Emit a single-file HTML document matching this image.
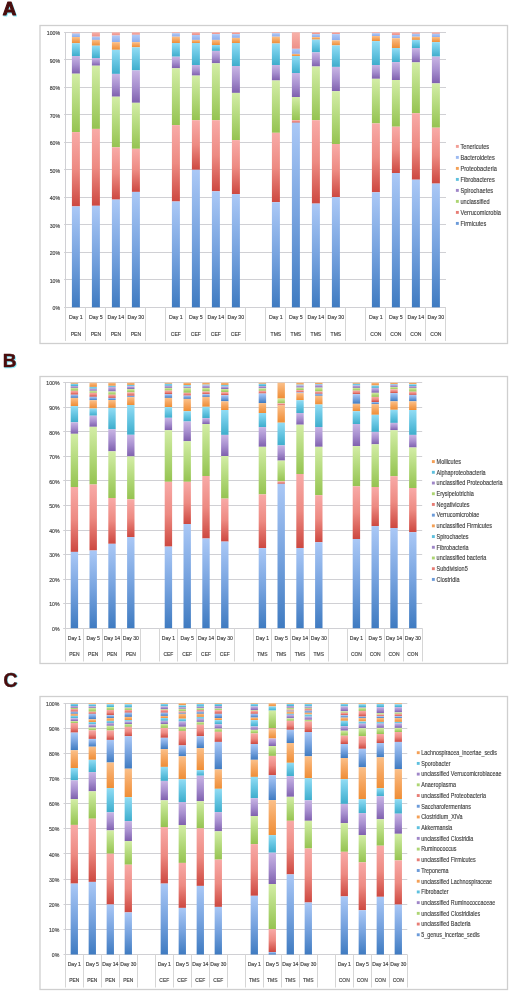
<!DOCTYPE html>
<html><head><meta charset="utf-8"><title>Figure</title>
<style>
html,body{margin:0;padding:0;background:#fff;}
body{width:510px;height:992px;overflow:hidden;}
svg{display:block;}
svg{will-change:transform;}
text{font-family:"Liberation Sans",sans-serif;}
.yl{font-size:5.65px;fill:#3c3c3c;text-anchor:end;stroke:#444;stroke-width:0.15px;}
.xl{fill:#3c3c3c;text-anchor:middle;stroke:#444;stroke-width:0.15px;}
.lg{fill:#3c3c3c;stroke:#444;stroke-width:0.14px;}
.pl{font-size:18.6px;font-weight:bold;fill:#4a0d0d;stroke:#4a0d0d;stroke-width:1.1px;stroke-linejoin:round;}
.pls{fill:#8ef;stroke:#8ef;}
</style></head>
<body>
<svg width="510" height="992" viewBox="0 0 510 992">
<defs>
<linearGradient id="gb" x1="0" y1="0" x2="0" y2="1"><stop offset="0" stop-color="#aac8f6"/><stop offset="0.5" stop-color="#77a3df"/><stop offset="1" stop-color="#3f7bc1"/></linearGradient>
<linearGradient id="gr" x1="0" y1="0" x2="0" y2="1"><stop offset="0" stop-color="#f8aaa7"/><stop offset="0.5" stop-color="#ed8a82"/><stop offset="1" stop-color="#cd4840"/></linearGradient>
<linearGradient id="gg" x1="0" y1="0" x2="0" y2="1"><stop offset="0" stop-color="#d3eda6"/><stop offset="0.5" stop-color="#b3d97b"/><stop offset="1" stop-color="#95c351"/></linearGradient>
<linearGradient id="gp" x1="0" y1="0" x2="0" y2="1"><stop offset="0" stop-color="#c9b5e4"/><stop offset="0.5" stop-color="#a78fcf"/><stop offset="1" stop-color="#7f60ae"/></linearGradient>
<linearGradient id="gc" x1="0" y1="0" x2="0" y2="1"><stop offset="0" stop-color="#92dcf4"/><stop offset="0.5" stop-color="#66c5e2"/><stop offset="1" stop-color="#3eadcc"/></linearGradient>
<linearGradient id="go" x1="0" y1="0" x2="0" y2="1"><stop offset="0" stop-color="#fbc089"/><stop offset="0.5" stop-color="#f5a55e"/><stop offset="1" stop-color="#ef8d35"/></linearGradient>
<linearGradient id="glb" x1="0" y1="0" x2="0" y2="1"><stop offset="0" stop-color="#b0cbf8"/><stop offset="0.5" stop-color="#9fbcf2"/><stop offset="1" stop-color="#8eaeee"/></linearGradient>
<linearGradient id="gpk" x1="0" y1="0" x2="0" y2="1"><stop offset="0" stop-color="#f8b2aa"/><stop offset="0.5" stop-color="#f3a199"/><stop offset="1" stop-color="#ee9088"/></linearGradient>
</defs>
<rect x="40" y="25.5" width="467.5" height="318" fill="#fff" stroke="#cfcfcf" stroke-width="1.3"/>
<line x1="64.1" y1="307.5" x2="446" y2="307.5" stroke="#d0d0d4" stroke-width="1"/>
<text transform="translate(60.1 310) scale(0.92 1)" class="yl">0%</text>
<line x1="64.1" y1="279.5" x2="446" y2="279.5" stroke="#d0d0d4" stroke-width="1"/>
<text transform="translate(60.1 282.5) scale(0.92 1)" class="yl">10%</text>
<line x1="64.1" y1="252.5" x2="446" y2="252.5" stroke="#d0d0d4" stroke-width="1"/>
<text transform="translate(60.1 255) scale(0.92 1)" class="yl">20%</text>
<line x1="64.1" y1="224.5" x2="446" y2="224.5" stroke="#d0d0d4" stroke-width="1"/>
<text transform="translate(60.1 227.5) scale(0.92 1)" class="yl">30%</text>
<line x1="64.1" y1="197.5" x2="446" y2="197.5" stroke="#d0d0d4" stroke-width="1"/>
<text transform="translate(60.1 200) scale(0.92 1)" class="yl">40%</text>
<line x1="64.1" y1="169.5" x2="446" y2="169.5" stroke="#d0d0d4" stroke-width="1"/>
<text transform="translate(60.1 172.5) scale(0.92 1)" class="yl">50%</text>
<line x1="64.1" y1="142.5" x2="446" y2="142.5" stroke="#d0d0d4" stroke-width="1"/>
<text transform="translate(60.1 145) scale(0.92 1)" class="yl">60%</text>
<line x1="64.1" y1="114.5" x2="446" y2="114.5" stroke="#d0d0d4" stroke-width="1"/>
<text transform="translate(60.1 117.5) scale(0.92 1)" class="yl">70%</text>
<line x1="64.1" y1="87.5" x2="446" y2="87.5" stroke="#d0d0d4" stroke-width="1"/>
<text transform="translate(60.1 90) scale(0.92 1)" class="yl">80%</text>
<line x1="64.1" y1="59.5" x2="446" y2="59.5" stroke="#d0d0d4" stroke-width="1"/>
<text transform="translate(60.1 62.5) scale(0.92 1)" class="yl">90%</text>
<line x1="64.1" y1="32.5" x2="446" y2="32.5" stroke="#d0d0d4" stroke-width="1"/>
<text transform="translate(60.1 35) scale(0.92 1)" class="yl">100%</text>
<line x1="65.5" y1="32.5" x2="65.5" y2="307.5" stroke="#d0d0d4" stroke-width="1"/>
<line x1="65.5" y1="307.3" x2="65.5" y2="341" stroke="#d6d6d6" stroke-width="1"/>
<line x1="85.5" y1="307.3" x2="85.5" y2="341" stroke="#d6d6d6" stroke-width="1"/>
<line x1="105.5" y1="307.3" x2="105.5" y2="341" stroke="#d6d6d6" stroke-width="1"/>
<line x1="125.5" y1="307.3" x2="125.5" y2="341" stroke="#d6d6d6" stroke-width="1"/>
<line x1="145.5" y1="307.3" x2="145.5" y2="341" stroke="#d6d6d6" stroke-width="1"/>
<line x1="165.5" y1="307.3" x2="165.5" y2="341" stroke="#d6d6d6" stroke-width="1"/>
<line x1="185.5" y1="307.3" x2="185.5" y2="341" stroke="#d6d6d6" stroke-width="1"/>
<line x1="205.5" y1="307.3" x2="205.5" y2="341" stroke="#d6d6d6" stroke-width="1"/>
<line x1="225.5" y1="307.3" x2="225.5" y2="341" stroke="#d6d6d6" stroke-width="1"/>
<line x1="245.5" y1="307.3" x2="245.5" y2="341" stroke="#d6d6d6" stroke-width="1"/>
<line x1="265.5" y1="307.3" x2="265.5" y2="341" stroke="#d6d6d6" stroke-width="1"/>
<line x1="285.5" y1="307.3" x2="285.5" y2="341" stroke="#d6d6d6" stroke-width="1"/>
<line x1="305.5" y1="307.3" x2="305.5" y2="341" stroke="#d6d6d6" stroke-width="1"/>
<line x1="325.5" y1="307.3" x2="325.5" y2="341" stroke="#d6d6d6" stroke-width="1"/>
<line x1="345.5" y1="307.3" x2="345.5" y2="341" stroke="#d6d6d6" stroke-width="1"/>
<line x1="365.5" y1="307.3" x2="365.5" y2="341" stroke="#d6d6d6" stroke-width="1"/>
<line x1="385.5" y1="307.3" x2="385.5" y2="341" stroke="#d6d6d6" stroke-width="1"/>
<line x1="405.5" y1="307.3" x2="405.5" y2="341" stroke="#d6d6d6" stroke-width="1"/>
<line x1="425.5" y1="307.3" x2="425.5" y2="341" stroke="#d6d6d6" stroke-width="1"/>
<line x1="445.5" y1="307.3" x2="445.5" y2="341" stroke="#d6d6d6" stroke-width="1"/>
<rect x="71.9" y="32.3" width="8" height="1.2" fill="url(#gpk)"/>
<rect x="71.9" y="33.5" width="8" height="3.5" fill="url(#glb)"/>
<rect x="71.9" y="37" width="8" height="6.2" fill="url(#go)"/>
<rect x="71.9" y="43.2" width="8" height="12.8" fill="url(#gc)"/>
<rect x="71.9" y="56" width="8" height="17.7" fill="url(#gp)"/>
<rect x="71.9" y="73.7" width="8" height="58.4" fill="url(#gg)"/>
<rect x="71.9" y="132.1" width="8" height="74.3" fill="url(#gr)"/>
<rect x="71.9" y="206.4" width="8" height="100.9" fill="url(#gb)"/>
<rect x="91.9" y="32.3" width="8" height="4.4" fill="url(#gpk)"/>
<rect x="91.9" y="36.7" width="8" height="3.2" fill="url(#glb)"/>
<rect x="91.9" y="39.9" width="8" height="5.8" fill="url(#go)"/>
<rect x="91.9" y="45.7" width="8" height="12.3" fill="url(#gc)"/>
<rect x="91.9" y="58" width="8" height="7.7" fill="url(#gp)"/>
<rect x="91.9" y="65.7" width="8" height="63.2" fill="url(#gg)"/>
<rect x="91.9" y="128.9" width="8" height="76.9" fill="url(#gr)"/>
<rect x="91.9" y="205.8" width="8" height="101.5" fill="url(#gb)"/>
<rect x="111.9" y="32.3" width="8" height="3.2" fill="url(#gpk)"/>
<rect x="111.9" y="35.5" width="8" height="6.6" fill="url(#glb)"/>
<rect x="111.9" y="42.1" width="8" height="7.7" fill="url(#go)"/>
<rect x="111.9" y="49.8" width="8" height="24.1" fill="url(#gc)"/>
<rect x="111.9" y="73.9" width="8" height="22.8" fill="url(#gp)"/>
<rect x="111.9" y="96.7" width="8" height="50.6" fill="url(#gg)"/>
<rect x="111.9" y="147.3" width="8" height="52.3" fill="url(#gr)"/>
<rect x="111.9" y="199.6" width="8" height="107.7" fill="url(#gb)"/>
<rect x="131.9" y="32.3" width="8" height="2.5" fill="url(#gpk)"/>
<rect x="131.9" y="34.8" width="8" height="7.3" fill="url(#glb)"/>
<rect x="131.9" y="42.1" width="8" height="5.2" fill="url(#go)"/>
<rect x="131.9" y="47.3" width="8" height="23.1" fill="url(#gc)"/>
<rect x="131.9" y="70.4" width="8" height="32.4" fill="url(#gp)"/>
<rect x="131.9" y="102.8" width="8" height="46" fill="url(#gg)"/>
<rect x="131.9" y="148.8" width="8" height="43.1" fill="url(#gr)"/>
<rect x="131.9" y="191.9" width="8" height="115.4" fill="url(#gb)"/>
<rect x="171.9" y="32.3" width="8" height="0.9" fill="url(#gpk)"/>
<rect x="171.9" y="33.2" width="8" height="3.5" fill="url(#glb)"/>
<rect x="171.9" y="36.7" width="8" height="6.3" fill="url(#go)"/>
<rect x="171.9" y="43" width="8" height="13.7" fill="url(#gc)"/>
<rect x="171.9" y="56.7" width="8" height="11.6" fill="url(#gp)"/>
<rect x="171.9" y="68.3" width="8" height="56.8" fill="url(#gg)"/>
<rect x="171.9" y="125.1" width="8" height="76.4" fill="url(#gr)"/>
<rect x="171.9" y="201.5" width="8" height="105.8" fill="url(#gb)"/>
<rect x="191.9" y="32.3" width="8" height="2.7" fill="url(#gpk)"/>
<rect x="191.9" y="35" width="8" height="4.9" fill="url(#glb)"/>
<rect x="191.9" y="39.9" width="8" height="3.1" fill="url(#go)"/>
<rect x="191.9" y="43" width="8" height="22" fill="url(#gc)"/>
<rect x="191.9" y="65" width="8" height="10.6" fill="url(#gp)"/>
<rect x="191.9" y="75.6" width="8" height="44.6" fill="url(#gg)"/>
<rect x="191.9" y="120.2" width="8" height="49.6" fill="url(#gr)"/>
<rect x="191.9" y="169.8" width="8" height="137.5" fill="url(#gb)"/>
<rect x="211.9" y="32.3" width="8" height="1.8" fill="url(#gpk)"/>
<rect x="211.9" y="34.1" width="8" height="5.8" fill="url(#glb)"/>
<rect x="211.9" y="39.9" width="8" height="5.1" fill="url(#go)"/>
<rect x="211.9" y="45" width="8" height="5.9" fill="url(#gc)"/>
<rect x="211.9" y="50.9" width="8" height="12.4" fill="url(#gp)"/>
<rect x="211.9" y="63.3" width="8" height="56.9" fill="url(#gg)"/>
<rect x="211.9" y="120.2" width="8" height="71.1" fill="url(#gr)"/>
<rect x="211.9" y="191.3" width="8" height="116" fill="url(#gb)"/>
<rect x="231.9" y="32.3" width="8" height="1.8" fill="url(#gpk)"/>
<rect x="231.9" y="34.1" width="8" height="3.8" fill="url(#glb)"/>
<rect x="231.9" y="37.9" width="8" height="5.1" fill="url(#go)"/>
<rect x="231.9" y="43" width="8" height="23" fill="url(#gc)"/>
<rect x="231.9" y="66" width="8" height="26.9" fill="url(#gp)"/>
<rect x="231.9" y="92.9" width="8" height="47.2" fill="url(#gg)"/>
<rect x="231.9" y="140.1" width="8" height="54" fill="url(#gr)"/>
<rect x="231.9" y="194.1" width="8" height="113.2" fill="url(#gb)"/>
<rect x="271.9" y="32.3" width="8" height="0.9" fill="url(#gpk)"/>
<rect x="271.9" y="33.2" width="8" height="3.5" fill="url(#glb)"/>
<rect x="271.9" y="36.7" width="8" height="6.8" fill="url(#go)"/>
<rect x="271.9" y="43.5" width="8" height="21.5" fill="url(#gc)"/>
<rect x="271.9" y="65" width="8" height="15.5" fill="url(#gp)"/>
<rect x="271.9" y="80.5" width="8" height="52.3" fill="url(#gg)"/>
<rect x="271.9" y="132.8" width="8" height="69.4" fill="url(#gr)"/>
<rect x="271.9" y="202.2" width="8" height="105.1" fill="url(#gb)"/>
<rect x="291.9" y="32.3" width="8" height="16.5" fill="url(#gpk)"/>
<rect x="291.9" y="48.8" width="8" height="5.1" fill="url(#glb)"/>
<rect x="291.9" y="53.9" width="8" height="2.1" fill="url(#go)"/>
<rect x="291.9" y="56" width="8" height="17" fill="url(#gc)"/>
<rect x="291.9" y="73" width="8" height="24" fill="url(#gp)"/>
<rect x="291.9" y="97" width="8" height="23.2" fill="url(#gg)"/>
<rect x="291.9" y="120.2" width="8" height="2.5" fill="url(#gr)"/>
<rect x="291.9" y="122.7" width="8" height="184.6" fill="url(#gb)"/>
<rect x="311.9" y="32.3" width="8" height="1.8" fill="url(#gpk)"/>
<rect x="311.9" y="34.1" width="8" height="3" fill="url(#glb)"/>
<rect x="311.9" y="37.1" width="8" height="2.5" fill="url(#go)"/>
<rect x="311.9" y="39.6" width="8" height="12.8" fill="url(#gc)"/>
<rect x="311.9" y="52.4" width="8" height="14.1" fill="url(#gp)"/>
<rect x="311.9" y="66.5" width="8" height="53.7" fill="url(#gg)"/>
<rect x="311.9" y="120.2" width="8" height="83.4" fill="url(#gr)"/>
<rect x="311.9" y="203.6" width="8" height="103.7" fill="url(#gb)"/>
<rect x="331.9" y="32.3" width="8" height="1.8" fill="url(#gpk)"/>
<rect x="331.9" y="34.1" width="8" height="6.2" fill="url(#glb)"/>
<rect x="331.9" y="40.3" width="8" height="5.1" fill="url(#go)"/>
<rect x="331.9" y="45.4" width="8" height="21.5" fill="url(#gc)"/>
<rect x="331.9" y="66.9" width="8" height="24.3" fill="url(#gp)"/>
<rect x="331.9" y="91.2" width="8" height="52.8" fill="url(#gg)"/>
<rect x="331.9" y="144" width="8" height="53.1" fill="url(#gr)"/>
<rect x="331.9" y="197.1" width="8" height="110.2" fill="url(#gb)"/>
<rect x="371.9" y="32.3" width="8" height="0.9" fill="url(#gpk)"/>
<rect x="371.9" y="33.2" width="8" height="2.8" fill="url(#glb)"/>
<rect x="371.9" y="36" width="8" height="5.1" fill="url(#go)"/>
<rect x="371.9" y="41.1" width="8" height="23.9" fill="url(#gc)"/>
<rect x="371.9" y="65" width="8" height="13.8" fill="url(#gp)"/>
<rect x="371.9" y="78.8" width="8" height="44.6" fill="url(#gg)"/>
<rect x="371.9" y="123.4" width="8" height="68.9" fill="url(#gr)"/>
<rect x="371.9" y="192.3" width="8" height="115" fill="url(#gb)"/>
<rect x="391.9" y="32.3" width="8" height="2.7" fill="url(#gpk)"/>
<rect x="391.9" y="35" width="8" height="3.2" fill="url(#glb)"/>
<rect x="391.9" y="38.2" width="8" height="9.8" fill="url(#go)"/>
<rect x="391.9" y="48" width="8" height="14.1" fill="url(#gc)"/>
<rect x="391.9" y="62.1" width="8" height="17.9" fill="url(#gp)"/>
<rect x="391.9" y="80" width="8" height="46.7" fill="url(#gg)"/>
<rect x="391.9" y="126.7" width="8" height="46.3" fill="url(#gr)"/>
<rect x="391.9" y="173" width="8" height="134.3" fill="url(#gb)"/>
<rect x="411.9" y="32.3" width="8" height="1.5" fill="url(#gpk)"/>
<rect x="411.9" y="33.8" width="8" height="2.9" fill="url(#glb)"/>
<rect x="411.9" y="36.7" width="8" height="3.2" fill="url(#go)"/>
<rect x="411.9" y="39.9" width="8" height="8.1" fill="url(#gc)"/>
<rect x="411.9" y="48" width="8" height="14.4" fill="url(#gp)"/>
<rect x="411.9" y="62.4" width="8" height="50.8" fill="url(#gg)"/>
<rect x="411.9" y="113.2" width="8" height="66.5" fill="url(#gr)"/>
<rect x="411.9" y="179.7" width="8" height="127.6" fill="url(#gb)"/>
<rect x="431.9" y="32.3" width="8" height="1.5" fill="url(#gpk)"/>
<rect x="431.9" y="33.8" width="8" height="3.2" fill="url(#glb)"/>
<rect x="431.9" y="37" width="8" height="5.1" fill="url(#go)"/>
<rect x="431.9" y="42.1" width="8" height="14.5" fill="url(#gc)"/>
<rect x="431.9" y="56.6" width="8" height="26.8" fill="url(#gp)"/>
<rect x="431.9" y="83.4" width="8" height="44.3" fill="url(#gg)"/>
<rect x="431.9" y="127.7" width="8" height="55.9" fill="url(#gr)"/>
<rect x="431.9" y="183.6" width="8" height="123.7" fill="url(#gb)"/>
<text x="75.9" y="318.8" class="xl" style="font-size:5.25px">Day 1</text>
<text x="75.9" y="335.8" class="xl" style="font-size:5.09px">PEN</text>
<text x="95.9" y="318.8" class="xl" style="font-size:5.25px">Day 5</text>
<text x="95.9" y="335.8" class="xl" style="font-size:5.09px">PEN</text>
<text x="115.9" y="318.8" class="xl" style="font-size:5.25px">Day 14</text>
<text x="115.9" y="335.8" class="xl" style="font-size:5.09px">PEN</text>
<text x="135.9" y="318.8" class="xl" style="font-size:5.25px">Day 30</text>
<text x="135.9" y="335.8" class="xl" style="font-size:5.09px">PEN</text>
<text x="175.9" y="318.8" class="xl" style="font-size:5.25px">Day 1</text>
<text x="175.9" y="335.8" class="xl" style="font-size:5.09px">CEF</text>
<text x="195.9" y="318.8" class="xl" style="font-size:5.25px">Day 5</text>
<text x="195.9" y="335.8" class="xl" style="font-size:5.09px">CEF</text>
<text x="215.9" y="318.8" class="xl" style="font-size:5.25px">Day 14</text>
<text x="215.9" y="335.8" class="xl" style="font-size:5.09px">CEF</text>
<text x="235.9" y="318.8" class="xl" style="font-size:5.25px">Day 30</text>
<text x="235.9" y="335.8" class="xl" style="font-size:5.09px">CEF</text>
<text x="275.9" y="318.8" class="xl" style="font-size:5.25px">Day 1</text>
<text x="275.9" y="335.8" class="xl" style="font-size:5.09px">TMS</text>
<text x="295.9" y="318.8" class="xl" style="font-size:5.25px">Day 5</text>
<text x="295.9" y="335.8" class="xl" style="font-size:5.09px">TMS</text>
<text x="315.9" y="318.8" class="xl" style="font-size:5.25px">Day 14</text>
<text x="315.9" y="335.8" class="xl" style="font-size:5.09px">TMS</text>
<text x="335.9" y="318.8" class="xl" style="font-size:5.25px">Day 30</text>
<text x="335.9" y="335.8" class="xl" style="font-size:5.09px">TMS</text>
<text x="375.9" y="318.8" class="xl" style="font-size:5.25px">Day 1</text>
<text x="375.9" y="335.8" class="xl" style="font-size:5.09px">CON</text>
<text x="395.9" y="318.8" class="xl" style="font-size:5.25px">Day 5</text>
<text x="395.9" y="335.8" class="xl" style="font-size:5.09px">CON</text>
<text x="415.9" y="318.8" class="xl" style="font-size:5.25px">Day 14</text>
<text x="415.9" y="335.8" class="xl" style="font-size:5.09px">CON</text>
<text x="435.9" y="318.8" class="xl" style="font-size:5.25px">Day 30</text>
<text x="435.9" y="335.8" class="xl" style="font-size:5.09px">CON</text>
<rect x="455.9" y="144.95" width="2.9" height="2.9" fill="#f29e96"/>
<text transform="translate(460.5 149) scale(0.86 1)" class="lg" style="font-size:6.51px">Tenericutes</text>
<rect x="455.9" y="155.95" width="2.9" height="2.9" fill="#9cb9f1"/>
<text transform="translate(460.5 160) scale(0.86 1)" class="lg" style="font-size:6.51px">Bacteroidetes</text>
<rect x="455.9" y="166.95" width="2.9" height="2.9" fill="#f4a056"/>
<text transform="translate(460.5 171) scale(0.86 1)" class="lg" style="font-size:6.51px">Proteobacteria</text>
<rect x="455.9" y="177.95" width="2.9" height="2.9" fill="#5ec0de"/>
<text transform="translate(460.5 182) scale(0.86 1)" class="lg" style="font-size:6.51px">Fibrobacteres</text>
<rect x="455.9" y="188.95" width="2.9" height="2.9" fill="#9f86c8"/>
<text transform="translate(460.5 193) scale(0.86 1)" class="lg" style="font-size:6.51px">Spirochaetes</text>
<rect x="455.9" y="199.95" width="2.9" height="2.9" fill="#add573"/>
<text transform="translate(460.5 204) scale(0.86 1)" class="lg" style="font-size:6.51px">unclassified</text>
<rect x="455.9" y="210.95" width="2.9" height="2.9" fill="#e77d75"/>
<text transform="translate(460.5 215) scale(0.86 1)" class="lg" style="font-size:6.51px">Verrucomicrobia</text>
<rect x="455.9" y="221.95" width="2.9" height="2.9" fill="#6c9bd9"/>
<text transform="translate(460.5 226) scale(0.86 1)" class="lg" style="font-size:6.51px">Firmicutes</text>
<rect x="40" y="376.5" width="467.5" height="287" fill="#fff" stroke="#cfcfcf" stroke-width="1.3"/>
<line x1="63.2" y1="628.5" x2="422.2" y2="628.5" stroke="#d0d0d4" stroke-width="1"/>
<text transform="translate(59.5 630.9) scale(0.92 1)" class="yl">0%</text>
<line x1="63.2" y1="603.5" x2="422.2" y2="603.5" stroke="#d0d0d4" stroke-width="1"/>
<text transform="translate(59.5 606.35) scale(0.92 1)" class="yl">10%</text>
<line x1="63.2" y1="579.5" x2="422.2" y2="579.5" stroke="#d0d0d4" stroke-width="1"/>
<text transform="translate(59.5 581.8) scale(0.92 1)" class="yl">20%</text>
<line x1="63.2" y1="554.5" x2="422.2" y2="554.5" stroke="#d0d0d4" stroke-width="1"/>
<text transform="translate(59.5 557.25) scale(0.92 1)" class="yl">30%</text>
<line x1="63.2" y1="530.5" x2="422.2" y2="530.5" stroke="#d0d0d4" stroke-width="1"/>
<text transform="translate(59.5 532.7) scale(0.92 1)" class="yl">40%</text>
<line x1="63.2" y1="505.5" x2="422.2" y2="505.5" stroke="#d0d0d4" stroke-width="1"/>
<text transform="translate(59.5 508.15) scale(0.92 1)" class="yl">50%</text>
<line x1="63.2" y1="480.5" x2="422.2" y2="480.5" stroke="#d0d0d4" stroke-width="1"/>
<text transform="translate(59.5 483.6) scale(0.92 1)" class="yl">60%</text>
<line x1="63.2" y1="456.5" x2="422.2" y2="456.5" stroke="#d0d0d4" stroke-width="1"/>
<text transform="translate(59.5 459.05) scale(0.92 1)" class="yl">70%</text>
<line x1="63.2" y1="431.5" x2="422.2" y2="431.5" stroke="#d0d0d4" stroke-width="1"/>
<text transform="translate(59.5 434.5) scale(0.92 1)" class="yl">80%</text>
<line x1="63.2" y1="407.5" x2="422.2" y2="407.5" stroke="#d0d0d4" stroke-width="1"/>
<text transform="translate(59.5 409.95) scale(0.92 1)" class="yl">90%</text>
<line x1="63.2" y1="382.5" x2="422.2" y2="382.5" stroke="#d0d0d4" stroke-width="1"/>
<text transform="translate(59.5 385.4) scale(0.92 1)" class="yl">100%</text>
<line x1="65.5" y1="382.5" x2="65.5" y2="628.5" stroke="#d0d0d4" stroke-width="1"/>
<line x1="65.5" y1="628.2" x2="65.5" y2="661.5" stroke="#d6d6d6" stroke-width="1"/>
<line x1="83.5" y1="628.2" x2="83.5" y2="661.5" stroke="#d6d6d6" stroke-width="1"/>
<line x1="102.5" y1="628.2" x2="102.5" y2="661.5" stroke="#d6d6d6" stroke-width="1"/>
<line x1="121.5" y1="628.2" x2="121.5" y2="661.5" stroke="#d6d6d6" stroke-width="1"/>
<line x1="140.5" y1="628.2" x2="140.5" y2="661.5" stroke="#d6d6d6" stroke-width="1"/>
<line x1="159.5" y1="628.2" x2="159.5" y2="661.5" stroke="#d6d6d6" stroke-width="1"/>
<line x1="177.5" y1="628.2" x2="177.5" y2="661.5" stroke="#d6d6d6" stroke-width="1"/>
<line x1="196.5" y1="628.2" x2="196.5" y2="661.5" stroke="#d6d6d6" stroke-width="1"/>
<line x1="215.5" y1="628.2" x2="215.5" y2="661.5" stroke="#d6d6d6" stroke-width="1"/>
<line x1="234.5" y1="628.2" x2="234.5" y2="661.5" stroke="#d6d6d6" stroke-width="1"/>
<line x1="253.5" y1="628.2" x2="253.5" y2="661.5" stroke="#d6d6d6" stroke-width="1"/>
<line x1="271.5" y1="628.2" x2="271.5" y2="661.5" stroke="#d6d6d6" stroke-width="1"/>
<line x1="290.5" y1="628.2" x2="290.5" y2="661.5" stroke="#d6d6d6" stroke-width="1"/>
<line x1="309.5" y1="628.2" x2="309.5" y2="661.5" stroke="#d6d6d6" stroke-width="1"/>
<line x1="328.5" y1="628.2" x2="328.5" y2="661.5" stroke="#d6d6d6" stroke-width="1"/>
<line x1="347.5" y1="628.2" x2="347.5" y2="661.5" stroke="#d6d6d6" stroke-width="1"/>
<line x1="365.5" y1="628.2" x2="365.5" y2="661.5" stroke="#d6d6d6" stroke-width="1"/>
<line x1="384.5" y1="628.2" x2="384.5" y2="661.5" stroke="#d6d6d6" stroke-width="1"/>
<line x1="403.5" y1="628.2" x2="403.5" y2="661.5" stroke="#d6d6d6" stroke-width="1"/>
<line x1="422.5" y1="628.2" x2="422.5" y2="661.5" stroke="#d6d6d6" stroke-width="1"/>
<rect x="70.7" y="382.7" width="7.4" height="1.1" fill="url(#go)"/>
<rect x="70.7" y="383.8" width="7.4" height="2.2" fill="url(#gc)"/>
<rect x="70.7" y="386" width="7.4" height="1.9" fill="url(#gp)"/>
<rect x="70.7" y="387.9" width="7.4" height="2.9" fill="url(#gg)"/>
<rect x="70.7" y="390.8" width="7.4" height="3.9" fill="url(#gr)"/>
<rect x="70.7" y="394.7" width="7.4" height="3.2" fill="url(#gb)"/>
<rect x="70.7" y="397.9" width="7.4" height="8.2" fill="url(#go)"/>
<rect x="70.7" y="406.1" width="7.4" height="16.2" fill="url(#gc)"/>
<rect x="70.7" y="422.3" width="7.4" height="11.5" fill="url(#gp)"/>
<rect x="70.7" y="433.8" width="7.4" height="53.2" fill="url(#gg)"/>
<rect x="70.7" y="487" width="7.4" height="64.9" fill="url(#gr)"/>
<rect x="70.7" y="551.9" width="7.4" height="76.3" fill="url(#gb)"/>
<rect x="89.5" y="382.7" width="7.4" height="4.2" fill="url(#go)"/>
<rect x="89.5" y="386.9" width="7.4" height="1.8" fill="url(#gc)"/>
<rect x="89.5" y="388.7" width="7.4" height="2.1" fill="url(#gp)"/>
<rect x="89.5" y="390.8" width="7.4" height="2" fill="url(#gg)"/>
<rect x="89.5" y="392.8" width="7.4" height="4" fill="url(#gr)"/>
<rect x="89.5" y="396.8" width="7.4" height="3.4" fill="url(#gb)"/>
<rect x="89.5" y="400.2" width="7.4" height="8.3" fill="url(#go)"/>
<rect x="89.5" y="408.5" width="7.4" height="7.2" fill="url(#gc)"/>
<rect x="89.5" y="415.7" width="7.4" height="11.1" fill="url(#gp)"/>
<rect x="89.5" y="426.8" width="7.4" height="57.7" fill="url(#gg)"/>
<rect x="89.5" y="484.5" width="7.4" height="66" fill="url(#gr)"/>
<rect x="89.5" y="550.5" width="7.4" height="77.7" fill="url(#gb)"/>
<rect x="108.3" y="382.7" width="7.4" height="3.1" fill="url(#go)"/>
<rect x="108.3" y="385.8" width="7.4" height="1.1" fill="url(#gc)"/>
<rect x="108.3" y="386.9" width="7.4" height="4.6" fill="url(#gp)"/>
<rect x="108.3" y="391.5" width="7.4" height="3.2" fill="url(#gg)"/>
<rect x="108.3" y="394.7" width="7.4" height="3.2" fill="url(#gr)"/>
<rect x="108.3" y="397.9" width="7.4" height="2.1" fill="url(#gb)"/>
<rect x="108.3" y="400" width="7.4" height="7.9" fill="url(#go)"/>
<rect x="108.3" y="407.9" width="7.4" height="21.3" fill="url(#gc)"/>
<rect x="108.3" y="429.2" width="7.4" height="22.1" fill="url(#gp)"/>
<rect x="108.3" y="451.3" width="7.4" height="46.7" fill="url(#gg)"/>
<rect x="108.3" y="498" width="7.4" height="45.8" fill="url(#gr)"/>
<rect x="108.3" y="543.8" width="7.4" height="84.4" fill="url(#gb)"/>
<rect x="127.1" y="382.7" width="7.4" height="2.2" fill="url(#go)"/>
<rect x="127.1" y="384.9" width="7.4" height="1.3" fill="url(#gc)"/>
<rect x="127.1" y="386.2" width="7.4" height="2.8" fill="url(#gp)"/>
<rect x="127.1" y="389" width="7.4" height="3.4" fill="url(#gg)"/>
<rect x="127.1" y="392.4" width="7.4" height="3.4" fill="url(#gr)"/>
<rect x="127.1" y="395.8" width="7.4" height="1.4" fill="url(#gb)"/>
<rect x="127.1" y="397.2" width="7.4" height="7.8" fill="url(#go)"/>
<rect x="127.1" y="405" width="7.4" height="29.8" fill="url(#gc)"/>
<rect x="127.1" y="434.8" width="7.4" height="21.6" fill="url(#gp)"/>
<rect x="127.1" y="456.4" width="7.4" height="42.9" fill="url(#gg)"/>
<rect x="127.1" y="499.3" width="7.4" height="37.8" fill="url(#gr)"/>
<rect x="127.1" y="537.1" width="7.4" height="91.1" fill="url(#gb)"/>
<rect x="164.7" y="382.7" width="7.4" height="1.1" fill="url(#go)"/>
<rect x="164.7" y="383.8" width="7.4" height="2" fill="url(#gc)"/>
<rect x="164.7" y="385.8" width="7.4" height="2.1" fill="url(#gp)"/>
<rect x="164.7" y="387.9" width="7.4" height="2.7" fill="url(#gg)"/>
<rect x="164.7" y="390.6" width="7.4" height="3.5" fill="url(#gr)"/>
<rect x="164.7" y="394.1" width="7.4" height="3.8" fill="url(#gb)"/>
<rect x="164.7" y="397.9" width="7.4" height="9.2" fill="url(#go)"/>
<rect x="164.7" y="407.1" width="7.4" height="10.7" fill="url(#gc)"/>
<rect x="164.7" y="417.8" width="7.4" height="12.4" fill="url(#gp)"/>
<rect x="164.7" y="430.2" width="7.4" height="51.6" fill="url(#gg)"/>
<rect x="164.7" y="481.8" width="7.4" height="64.8" fill="url(#gr)"/>
<rect x="164.7" y="546.6" width="7.4" height="81.6" fill="url(#gb)"/>
<rect x="183.5" y="382.7" width="7.4" height="2.4" fill="url(#go)"/>
<rect x="183.5" y="385.1" width="7.4" height="1.4" fill="url(#gc)"/>
<rect x="183.5" y="386.5" width="7.4" height="1.4" fill="url(#gp)"/>
<rect x="183.5" y="387.9" width="7.4" height="4.9" fill="url(#gg)"/>
<rect x="183.5" y="392.8" width="7.4" height="2.8" fill="url(#gr)"/>
<rect x="183.5" y="395.6" width="7.4" height="3.3" fill="url(#gb)"/>
<rect x="183.5" y="398.9" width="7.4" height="12.3" fill="url(#go)"/>
<rect x="183.5" y="411.2" width="7.4" height="10.3" fill="url(#gc)"/>
<rect x="183.5" y="421.5" width="7.4" height="19.7" fill="url(#gp)"/>
<rect x="183.5" y="441.2" width="7.4" height="40.6" fill="url(#gg)"/>
<rect x="183.5" y="481.8" width="7.4" height="42.2" fill="url(#gr)"/>
<rect x="183.5" y="524" width="7.4" height="104.2" fill="url(#gb)"/>
<rect x="202.3" y="382.7" width="7.4" height="1.9" fill="url(#go)"/>
<rect x="202.3" y="384.6" width="7.4" height="0.9" fill="url(#gc)"/>
<rect x="202.3" y="385.5" width="7.4" height="2.4" fill="url(#gp)"/>
<rect x="202.3" y="387.9" width="7.4" height="3.6" fill="url(#gg)"/>
<rect x="202.3" y="391.5" width="7.4" height="2.7" fill="url(#gr)"/>
<rect x="202.3" y="394.2" width="7.4" height="2.7" fill="url(#gb)"/>
<rect x="202.3" y="396.9" width="7.4" height="9.9" fill="url(#go)"/>
<rect x="202.3" y="406.8" width="7.4" height="11.3" fill="url(#gc)"/>
<rect x="202.3" y="418.1" width="7.4" height="5.9" fill="url(#gp)"/>
<rect x="202.3" y="424" width="7.4" height="52" fill="url(#gg)"/>
<rect x="202.3" y="476" width="7.4" height="62.5" fill="url(#gr)"/>
<rect x="202.3" y="538.5" width="7.4" height="89.7" fill="url(#gb)"/>
<rect x="221.1" y="382.7" width="7.4" height="2.2" fill="url(#go)"/>
<rect x="221.1" y="384.9" width="7.4" height="1.6" fill="url(#gc)"/>
<rect x="221.1" y="386.5" width="7.4" height="2.5" fill="url(#gp)"/>
<rect x="221.1" y="389" width="7.4" height="3.1" fill="url(#gg)"/>
<rect x="221.1" y="392.1" width="7.4" height="3.1" fill="url(#gr)"/>
<rect x="221.1" y="395.2" width="7.4" height="6.1" fill="url(#gb)"/>
<rect x="221.1" y="401.3" width="7.4" height="8.7" fill="url(#go)"/>
<rect x="221.1" y="410" width="7.4" height="24.9" fill="url(#gc)"/>
<rect x="221.1" y="434.9" width="7.4" height="21.1" fill="url(#gp)"/>
<rect x="221.1" y="456" width="7.4" height="42.6" fill="url(#gg)"/>
<rect x="221.1" y="498.6" width="7.4" height="43" fill="url(#gr)"/>
<rect x="221.1" y="541.6" width="7.4" height="86.6" fill="url(#gb)"/>
<rect x="258.7" y="382.7" width="7.4" height="1.1" fill="url(#go)"/>
<rect x="258.7" y="383.8" width="7.4" height="2.2" fill="url(#gc)"/>
<rect x="258.7" y="386" width="7.4" height="2.3" fill="url(#gp)"/>
<rect x="258.7" y="388.3" width="7.4" height="2.5" fill="url(#gg)"/>
<rect x="258.7" y="390.8" width="7.4" height="2.7" fill="url(#gr)"/>
<rect x="258.7" y="393.5" width="7.4" height="9.6" fill="url(#gb)"/>
<rect x="258.7" y="403.1" width="7.4" height="9.9" fill="url(#go)"/>
<rect x="258.7" y="413" width="7.4" height="14.1" fill="url(#gc)"/>
<rect x="258.7" y="427.1" width="7.4" height="19.7" fill="url(#gp)"/>
<rect x="258.7" y="446.8" width="7.4" height="47.6" fill="url(#gg)"/>
<rect x="258.7" y="494.4" width="7.4" height="53.7" fill="url(#gr)"/>
<rect x="258.7" y="548.1" width="7.4" height="80.1" fill="url(#gb)"/>
<rect x="277.5" y="382.7" width="7.4" height="15.9" fill="url(#go)"/>
<rect x="277.5" y="398.6" width="7.4" height="4.8" fill="url(#gg)"/>
<rect x="277.5" y="403.4" width="7.4" height="2" fill="url(#gr)"/>
<rect x="277.5" y="405.4" width="7.4" height="17.3" fill="url(#go)"/>
<rect x="277.5" y="422.7" width="7.4" height="22.7" fill="url(#gc)"/>
<rect x="277.5" y="445.4" width="7.4" height="15.2" fill="url(#gp)"/>
<rect x="277.5" y="460.6" width="7.4" height="20.8" fill="url(#gg)"/>
<rect x="277.5" y="481.4" width="7.4" height="2.4" fill="url(#gr)"/>
<rect x="277.5" y="483.8" width="7.4" height="144.4" fill="url(#gb)"/>
<rect x="296.3" y="382.7" width="7.4" height="1.9" fill="url(#go)"/>
<rect x="296.3" y="384.6" width="7.4" height="0.9" fill="url(#gc)"/>
<rect x="296.3" y="385.5" width="7.4" height="2.1" fill="url(#gp)"/>
<rect x="296.3" y="387.6" width="7.4" height="2.5" fill="url(#gg)"/>
<rect x="296.3" y="390.1" width="7.4" height="2.3" fill="url(#gr)"/>
<rect x="296.3" y="392.4" width="7.4" height="0.7" fill="url(#gb)"/>
<rect x="296.3" y="393.1" width="7.4" height="7.1" fill="url(#go)"/>
<rect x="296.3" y="400.2" width="7.4" height="12.8" fill="url(#gc)"/>
<rect x="296.3" y="413" width="7.4" height="11.7" fill="url(#gp)"/>
<rect x="296.3" y="424.7" width="7.4" height="49.3" fill="url(#gg)"/>
<rect x="296.3" y="474" width="7.4" height="74" fill="url(#gr)"/>
<rect x="296.3" y="548" width="7.4" height="80.2" fill="url(#gb)"/>
<rect x="315.1" y="382.7" width="7.4" height="1.5" fill="url(#go)"/>
<rect x="315.1" y="384.2" width="7.4" height="0.7" fill="url(#gc)"/>
<rect x="315.1" y="384.9" width="7.4" height="2.7" fill="url(#gp)"/>
<rect x="315.1" y="387.6" width="7.4" height="3.9" fill="url(#gg)"/>
<rect x="315.1" y="391.5" width="7.4" height="2.3" fill="url(#gr)"/>
<rect x="315.1" y="393.8" width="7.4" height="2" fill="url(#gb)"/>
<rect x="315.1" y="395.8" width="7.4" height="8.7" fill="url(#go)"/>
<rect x="315.1" y="404.5" width="7.4" height="22.5" fill="url(#gc)"/>
<rect x="315.1" y="427" width="7.4" height="19.8" fill="url(#gp)"/>
<rect x="315.1" y="446.8" width="7.4" height="48.4" fill="url(#gg)"/>
<rect x="315.1" y="495.2" width="7.4" height="47" fill="url(#gr)"/>
<rect x="315.1" y="542.2" width="7.4" height="86" fill="url(#gb)"/>
<rect x="352.7" y="382.7" width="7.4" height="1.1" fill="url(#go)"/>
<rect x="352.7" y="383.8" width="7.4" height="1.7" fill="url(#gc)"/>
<rect x="352.7" y="385.5" width="7.4" height="2.4" fill="url(#gp)"/>
<rect x="352.7" y="387.9" width="7.4" height="2.7" fill="url(#gg)"/>
<rect x="352.7" y="390.6" width="7.4" height="3.6" fill="url(#gr)"/>
<rect x="352.7" y="394.2" width="7.4" height="9.6" fill="url(#gb)"/>
<rect x="352.7" y="403.8" width="7.4" height="7.4" fill="url(#go)"/>
<rect x="352.7" y="411.2" width="7.4" height="12.8" fill="url(#gc)"/>
<rect x="352.7" y="424" width="7.4" height="22.1" fill="url(#gp)"/>
<rect x="352.7" y="446.1" width="7.4" height="40.2" fill="url(#gg)"/>
<rect x="352.7" y="486.3" width="7.4" height="52.7" fill="url(#gr)"/>
<rect x="352.7" y="539" width="7.4" height="89.2" fill="url(#gb)"/>
<rect x="371.5" y="382.7" width="7.4" height="2.8" fill="url(#go)"/>
<rect x="371.5" y="385.5" width="7.4" height="2.4" fill="url(#gc)"/>
<rect x="371.5" y="387.9" width="7.4" height="4.9" fill="url(#gp)"/>
<rect x="371.5" y="392.8" width="7.4" height="4.1" fill="url(#gg)"/>
<rect x="371.5" y="396.9" width="7.4" height="5.1" fill="url(#gr)"/>
<rect x="371.5" y="402" width="7.4" height="2.1" fill="url(#gb)"/>
<rect x="371.5" y="404.1" width="7.4" height="10.7" fill="url(#go)"/>
<rect x="371.5" y="414.8" width="7.4" height="17.1" fill="url(#gc)"/>
<rect x="371.5" y="431.9" width="7.4" height="12.4" fill="url(#gp)"/>
<rect x="371.5" y="444.3" width="7.4" height="42.7" fill="url(#gg)"/>
<rect x="371.5" y="487" width="7.4" height="39.1" fill="url(#gr)"/>
<rect x="371.5" y="526.1" width="7.4" height="102.1" fill="url(#gb)"/>
<rect x="390.3" y="382.7" width="7.4" height="1.5" fill="url(#go)"/>
<rect x="390.3" y="384.2" width="7.4" height="0.7" fill="url(#gc)"/>
<rect x="390.3" y="384.9" width="7.4" height="2" fill="url(#gp)"/>
<rect x="390.3" y="386.9" width="7.4" height="2.4" fill="url(#gg)"/>
<rect x="390.3" y="389.3" width="7.4" height="3.8" fill="url(#gr)"/>
<rect x="390.3" y="393.1" width="7.4" height="8.2" fill="url(#gb)"/>
<rect x="390.3" y="401.3" width="7.4" height="8.5" fill="url(#go)"/>
<rect x="390.3" y="409.8" width="7.4" height="13.1" fill="url(#gc)"/>
<rect x="390.3" y="422.9" width="7.4" height="7.3" fill="url(#gp)"/>
<rect x="390.3" y="430.2" width="7.4" height="46" fill="url(#gg)"/>
<rect x="390.3" y="476.2" width="7.4" height="51.8" fill="url(#gr)"/>
<rect x="390.3" y="528" width="7.4" height="100.2" fill="url(#gb)"/>
<rect x="409.1" y="382.7" width="7.4" height="1.5" fill="url(#go)"/>
<rect x="409.1" y="384.2" width="7.4" height="1.8" fill="url(#gc)"/>
<rect x="409.1" y="386" width="7.4" height="1.9" fill="url(#gp)"/>
<rect x="409.1" y="387.9" width="7.4" height="3.8" fill="url(#gg)"/>
<rect x="409.1" y="391.7" width="7.4" height="3.2" fill="url(#gr)"/>
<rect x="409.1" y="394.9" width="7.4" height="6.4" fill="url(#gb)"/>
<rect x="409.1" y="401.3" width="7.4" height="8.7" fill="url(#go)"/>
<rect x="409.1" y="410" width="7.4" height="24.9" fill="url(#gc)"/>
<rect x="409.1" y="434.9" width="7.4" height="12.6" fill="url(#gp)"/>
<rect x="409.1" y="447.5" width="7.4" height="40.5" fill="url(#gg)"/>
<rect x="409.1" y="488" width="7.4" height="44.2" fill="url(#gr)"/>
<rect x="409.1" y="532.2" width="7.4" height="96" fill="url(#gb)"/>
<text x="74.4" y="640.1" class="xl" style="font-size:5.1px">Day 1</text>
<text x="74.4" y="656.2" class="xl" style="font-size:4.95px">PEN</text>
<text x="93.2" y="640.1" class="xl" style="font-size:5.1px">Day 5</text>
<text x="93.2" y="656.2" class="xl" style="font-size:4.95px">PEN</text>
<text x="112" y="640.1" class="xl" style="font-size:5.1px">Day 14</text>
<text x="112" y="656.2" class="xl" style="font-size:4.95px">PEN</text>
<text x="130.8" y="640.1" class="xl" style="font-size:5.1px">Day 30</text>
<text x="130.8" y="656.2" class="xl" style="font-size:4.95px">PEN</text>
<text x="168.4" y="640.1" class="xl" style="font-size:5.1px">Day 1</text>
<text x="168.4" y="656.2" class="xl" style="font-size:4.95px">CEF</text>
<text x="187.2" y="640.1" class="xl" style="font-size:5.1px">Day 5</text>
<text x="187.2" y="656.2" class="xl" style="font-size:4.95px">CEF</text>
<text x="206" y="640.1" class="xl" style="font-size:5.1px">Day 14</text>
<text x="206" y="656.2" class="xl" style="font-size:4.95px">CEF</text>
<text x="224.8" y="640.1" class="xl" style="font-size:5.1px">Day 30</text>
<text x="224.8" y="656.2" class="xl" style="font-size:4.95px">CEF</text>
<text x="262.4" y="640.1" class="xl" style="font-size:5.1px">Day 1</text>
<text x="262.4" y="656.2" class="xl" style="font-size:4.95px">TMS</text>
<text x="281.2" y="640.1" class="xl" style="font-size:5.1px">Day 5</text>
<text x="281.2" y="656.2" class="xl" style="font-size:4.95px">TMS</text>
<text x="300" y="640.1" class="xl" style="font-size:5.1px">Day 14</text>
<text x="300" y="656.2" class="xl" style="font-size:4.95px">TMS</text>
<text x="318.8" y="640.1" class="xl" style="font-size:5.1px">Day 30</text>
<text x="318.8" y="656.2" class="xl" style="font-size:4.95px">TMS</text>
<text x="356.4" y="640.1" class="xl" style="font-size:5.1px">Day 1</text>
<text x="356.4" y="656.2" class="xl" style="font-size:4.95px">CON</text>
<text x="375.2" y="640.1" class="xl" style="font-size:5.1px">Day 5</text>
<text x="375.2" y="656.2" class="xl" style="font-size:4.95px">CON</text>
<text x="394" y="640.1" class="xl" style="font-size:5.1px">Day 14</text>
<text x="394" y="656.2" class="xl" style="font-size:4.95px">CON</text>
<text x="412.8" y="640.1" class="xl" style="font-size:5.1px">Day 30</text>
<text x="412.8" y="656.2" class="xl" style="font-size:4.95px">CON</text>
<rect x="431.9" y="460.15" width="2.9" height="2.9" fill="#f4a056"/>
<text transform="translate(436.6 463.9) scale(0.87 1)" class="lg" style="font-size:6.32px">Mollicutes</text>
<rect x="431.9" y="470.86" width="2.9" height="2.9" fill="#5ec0de"/>
<text transform="translate(436.6 474.61) scale(0.87 1)" class="lg" style="font-size:6.32px">Alphaproteobacteria</text>
<rect x="431.9" y="481.57" width="2.9" height="2.9" fill="#9f86c8"/>
<text transform="translate(436.6 485.32) scale(0.87 1)" class="lg" style="font-size:6.32px">unclassified Proteobacteria</text>
<rect x="431.9" y="492.28" width="2.9" height="2.9" fill="#add573"/>
<text transform="translate(436.6 496.03) scale(0.87 1)" class="lg" style="font-size:6.32px">Erysipelotrichia</text>
<rect x="431.9" y="502.99" width="2.9" height="2.9" fill="#e77d75"/>
<text transform="translate(436.6 506.74) scale(0.87 1)" class="lg" style="font-size:6.32px">Negativicutes</text>
<rect x="431.9" y="513.7" width="2.9" height="2.9" fill="#6c9bd9"/>
<text transform="translate(436.6 517.45) scale(0.87 1)" class="lg" style="font-size:6.32px">Verrucomicrobiae</text>
<rect x="431.9" y="524.41" width="2.9" height="2.9" fill="#f4a056"/>
<text transform="translate(436.6 528.16) scale(0.87 1)" class="lg" style="font-size:6.32px">unclassified Firmicutes</text>
<rect x="431.9" y="535.12" width="2.9" height="2.9" fill="#5ec0de"/>
<text transform="translate(436.6 538.87) scale(0.87 1)" class="lg" style="font-size:6.32px">Spirochaetes</text>
<rect x="431.9" y="545.83" width="2.9" height="2.9" fill="#9f86c8"/>
<text transform="translate(436.6 549.58) scale(0.87 1)" class="lg" style="font-size:6.32px">Fibrobacteria</text>
<rect x="431.9" y="556.54" width="2.9" height="2.9" fill="#add573"/>
<text transform="translate(436.6 560.29) scale(0.87 1)" class="lg" style="font-size:6.32px">unclassified bacteria</text>
<rect x="431.9" y="567.25" width="2.9" height="2.9" fill="#e77d75"/>
<text transform="translate(436.6 571) scale(0.87 1)" class="lg" style="font-size:6.32px">Subdivision5</text>
<rect x="431.9" y="577.96" width="2.9" height="2.9" fill="#6c9bd9"/>
<text transform="translate(436.6 581.71) scale(0.87 1)" class="lg" style="font-size:6.32px">Clostridia</text>
<rect x="40" y="696.5" width="467.5" height="293" fill="#fff" stroke="#cfcfcf" stroke-width="1.3"/>
<line x1="63.5" y1="954.5" x2="407.3" y2="954.5" stroke="#d0d0d4" stroke-width="1"/>
<text transform="translate(59.3 957.1) scale(0.92 1)" class="yl">0%</text>
<line x1="63.5" y1="929.5" x2="407.3" y2="929.5" stroke="#d0d0d4" stroke-width="1"/>
<text transform="translate(59.3 931.97) scale(0.92 1)" class="yl">10%</text>
<line x1="63.5" y1="904.5" x2="407.3" y2="904.5" stroke="#d0d0d4" stroke-width="1"/>
<text transform="translate(59.3 906.84) scale(0.92 1)" class="yl">20%</text>
<line x1="63.5" y1="879.5" x2="407.3" y2="879.5" stroke="#d0d0d4" stroke-width="1"/>
<text transform="translate(59.3 881.71) scale(0.92 1)" class="yl">30%</text>
<line x1="63.5" y1="853.5" x2="407.3" y2="853.5" stroke="#d0d0d4" stroke-width="1"/>
<text transform="translate(59.3 856.58) scale(0.92 1)" class="yl">40%</text>
<line x1="63.5" y1="828.5" x2="407.3" y2="828.5" stroke="#d0d0d4" stroke-width="1"/>
<text transform="translate(59.3 831.45) scale(0.92 1)" class="yl">50%</text>
<line x1="63.5" y1="803.5" x2="407.3" y2="803.5" stroke="#d0d0d4" stroke-width="1"/>
<text transform="translate(59.3 806.32) scale(0.92 1)" class="yl">60%</text>
<line x1="63.5" y1="778.5" x2="407.3" y2="778.5" stroke="#d0d0d4" stroke-width="1"/>
<text transform="translate(59.3 781.19) scale(0.92 1)" class="yl">70%</text>
<line x1="63.5" y1="753.5" x2="407.3" y2="753.5" stroke="#d0d0d4" stroke-width="1"/>
<text transform="translate(59.3 756.06) scale(0.92 1)" class="yl">80%</text>
<line x1="63.5" y1="728.5" x2="407.3" y2="728.5" stroke="#d0d0d4" stroke-width="1"/>
<text transform="translate(59.3 730.93) scale(0.92 1)" class="yl">90%</text>
<line x1="63.5" y1="703.5" x2="407.3" y2="703.5" stroke="#d0d0d4" stroke-width="1"/>
<text transform="translate(59.3 705.8) scale(0.92 1)" class="yl">100%</text>
<line x1="65.5" y1="703.5" x2="65.5" y2="954.5" stroke="#d0d0d4" stroke-width="1"/>
<line x1="65.5" y1="954.5" x2="65.5" y2="987.5" stroke="#d6d6d6" stroke-width="1"/>
<line x1="83.5" y1="954.5" x2="83.5" y2="987.5" stroke="#d6d6d6" stroke-width="1"/>
<line x1="101.5" y1="954.5" x2="101.5" y2="987.5" stroke="#d6d6d6" stroke-width="1"/>
<line x1="119.5" y1="954.5" x2="119.5" y2="987.5" stroke="#d6d6d6" stroke-width="1"/>
<line x1="137.5" y1="954.5" x2="137.5" y2="987.5" stroke="#d6d6d6" stroke-width="1"/>
<line x1="155.5" y1="954.5" x2="155.5" y2="987.5" stroke="#d6d6d6" stroke-width="1"/>
<line x1="173.5" y1="954.5" x2="173.5" y2="987.5" stroke="#d6d6d6" stroke-width="1"/>
<line x1="191.5" y1="954.5" x2="191.5" y2="987.5" stroke="#d6d6d6" stroke-width="1"/>
<line x1="209.5" y1="954.5" x2="209.5" y2="987.5" stroke="#d6d6d6" stroke-width="1"/>
<line x1="227.5" y1="954.5" x2="227.5" y2="987.5" stroke="#d6d6d6" stroke-width="1"/>
<line x1="245.5" y1="954.5" x2="245.5" y2="987.5" stroke="#d6d6d6" stroke-width="1"/>
<line x1="263.5" y1="954.5" x2="263.5" y2="987.5" stroke="#d6d6d6" stroke-width="1"/>
<line x1="281.5" y1="954.5" x2="281.5" y2="987.5" stroke="#d6d6d6" stroke-width="1"/>
<line x1="299.5" y1="954.5" x2="299.5" y2="987.5" stroke="#d6d6d6" stroke-width="1"/>
<line x1="317.5" y1="954.5" x2="317.5" y2="987.5" stroke="#d6d6d6" stroke-width="1"/>
<line x1="335.5" y1="954.5" x2="335.5" y2="987.5" stroke="#d6d6d6" stroke-width="1"/>
<line x1="353.5" y1="954.5" x2="353.5" y2="987.5" stroke="#d6d6d6" stroke-width="1"/>
<line x1="371.5" y1="954.5" x2="371.5" y2="987.5" stroke="#d6d6d6" stroke-width="1"/>
<line x1="389.5" y1="954.5" x2="389.5" y2="987.5" stroke="#d6d6d6" stroke-width="1"/>
<line x1="407.5" y1="954.5" x2="407.5" y2="987.5" stroke="#d6d6d6" stroke-width="1"/>
<rect x="70.65" y="703.2" width="7.3" height="0.6" fill="url(#go)"/>
<rect x="70.65" y="703.8" width="7.3" height="2.2" fill="url(#gc)"/>
<rect x="70.65" y="706" width="7.3" height="1.9" fill="url(#gp)"/>
<rect x="70.65" y="707.9" width="7.3" height="1.1" fill="url(#gg)"/>
<rect x="70.65" y="709" width="7.3" height="2.7" fill="url(#gr)"/>
<rect x="70.65" y="711.7" width="7.3" height="2.1" fill="url(#gb)"/>
<rect x="70.65" y="713.8" width="7.3" height="2" fill="url(#go)"/>
<rect x="70.65" y="715.8" width="7.3" height="2.4" fill="url(#gc)"/>
<rect x="70.65" y="718.2" width="7.3" height="2.9" fill="url(#gp)"/>
<rect x="70.65" y="721.1" width="7.3" height="1.9" fill="url(#gg)"/>
<rect x="70.65" y="723" width="7.3" height="9.6" fill="url(#gr)"/>
<rect x="70.65" y="732.6" width="7.3" height="17.6" fill="url(#gb)"/>
<rect x="70.65" y="750.2" width="7.3" height="17.8" fill="url(#go)"/>
<rect x="70.65" y="768" width="7.3" height="12.3" fill="url(#gc)"/>
<rect x="70.65" y="780.3" width="7.3" height="18.8" fill="url(#gp)"/>
<rect x="70.65" y="799.1" width="7.3" height="25.8" fill="url(#gg)"/>
<rect x="70.65" y="824.9" width="7.3" height="58.7" fill="url(#gr)"/>
<rect x="70.65" y="883.6" width="7.3" height="70.9" fill="url(#gb)"/>
<rect x="88.65" y="703.2" width="7.3" height="1" fill="url(#go)"/>
<rect x="88.65" y="704.2" width="7.3" height="2" fill="url(#gc)"/>
<rect x="88.65" y="706.2" width="7.3" height="1.7" fill="url(#gp)"/>
<rect x="88.65" y="707.9" width="7.3" height="3.8" fill="url(#gg)"/>
<rect x="88.65" y="711.7" width="7.3" height="2.1" fill="url(#gr)"/>
<rect x="88.65" y="713.8" width="7.3" height="5.5" fill="url(#gb)"/>
<rect x="88.65" y="719.3" width="7.3" height="2.7" fill="url(#go)"/>
<rect x="88.65" y="722" width="7.3" height="2.4" fill="url(#gc)"/>
<rect x="88.65" y="724.4" width="7.3" height="3.1" fill="url(#gp)"/>
<rect x="88.65" y="727.5" width="7.3" height="2.8" fill="url(#gg)"/>
<rect x="88.65" y="730.3" width="7.3" height="8.6" fill="url(#gr)"/>
<rect x="88.65" y="738.9" width="7.3" height="7.8" fill="url(#gb)"/>
<rect x="88.65" y="746.7" width="7.3" height="13.1" fill="url(#go)"/>
<rect x="88.65" y="759.8" width="7.3" height="12.3" fill="url(#gc)"/>
<rect x="88.65" y="772.1" width="7.3" height="19.2" fill="url(#gp)"/>
<rect x="88.65" y="791.3" width="7.3" height="27.4" fill="url(#gg)"/>
<rect x="88.65" y="818.7" width="7.3" height="63.2" fill="url(#gr)"/>
<rect x="88.65" y="881.9" width="7.3" height="72.6" fill="url(#gb)"/>
<rect x="106.65" y="703.2" width="7.3" height="1" fill="url(#go)"/>
<rect x="106.65" y="704.2" width="7.3" height="2.9" fill="url(#gc)"/>
<rect x="106.65" y="707.1" width="7.3" height="2.8" fill="url(#gg)"/>
<rect x="106.65" y="709.9" width="7.3" height="5.3" fill="url(#gr)"/>
<rect x="106.65" y="715.2" width="7.3" height="2.8" fill="url(#gb)"/>
<rect x="106.65" y="718" width="7.3" height="2.8" fill="url(#go)"/>
<rect x="106.65" y="720.8" width="7.3" height="2.1" fill="url(#gc)"/>
<rect x="106.65" y="722.9" width="7.3" height="2.9" fill="url(#gp)"/>
<rect x="106.65" y="725.8" width="7.3" height="4.7" fill="url(#gg)"/>
<rect x="106.65" y="730.5" width="7.3" height="9.4" fill="url(#gr)"/>
<rect x="106.65" y="739.9" width="7.3" height="22.6" fill="url(#gb)"/>
<rect x="106.65" y="762.5" width="7.3" height="25.6" fill="url(#go)"/>
<rect x="106.65" y="788.1" width="7.3" height="24.2" fill="url(#gc)"/>
<rect x="106.65" y="812.3" width="7.3" height="18.1" fill="url(#gp)"/>
<rect x="106.65" y="830.4" width="7.3" height="23.3" fill="url(#gg)"/>
<rect x="106.65" y="853.7" width="7.3" height="50.8" fill="url(#gr)"/>
<rect x="106.65" y="904.5" width="7.3" height="50" fill="url(#gb)"/>
<rect x="124.65" y="703.2" width="7.3" height="1" fill="url(#go)"/>
<rect x="124.65" y="704.2" width="7.3" height="3.1" fill="url(#gc)"/>
<rect x="124.65" y="707.3" width="7.3" height="0.5" fill="url(#gp)"/>
<rect x="124.65" y="707.8" width="7.3" height="2.1" fill="url(#gg)"/>
<rect x="124.65" y="709.9" width="7.3" height="2.8" fill="url(#gr)"/>
<rect x="124.65" y="712.7" width="7.3" height="4.2" fill="url(#gb)"/>
<rect x="124.65" y="716.9" width="7.3" height="3.2" fill="url(#go)"/>
<rect x="124.65" y="720.1" width="7.3" height="1.4" fill="url(#gc)"/>
<rect x="124.65" y="721.5" width="7.3" height="2.5" fill="url(#gp)"/>
<rect x="124.65" y="724" width="7.3" height="2.8" fill="url(#gg)"/>
<rect x="124.65" y="726.8" width="7.3" height="9.4" fill="url(#gr)"/>
<rect x="124.65" y="736.2" width="7.3" height="32.5" fill="url(#gb)"/>
<rect x="124.65" y="768.7" width="7.3" height="28.5" fill="url(#go)"/>
<rect x="124.65" y="797.2" width="7.3" height="23.9" fill="url(#gc)"/>
<rect x="124.65" y="821.1" width="7.3" height="20" fill="url(#gp)"/>
<rect x="124.65" y="841.1" width="7.3" height="23.6" fill="url(#gg)"/>
<rect x="124.65" y="864.7" width="7.3" height="47.7" fill="url(#gr)"/>
<rect x="124.65" y="912.4" width="7.3" height="42.1" fill="url(#gb)"/>
<rect x="160.65" y="703.2" width="7.3" height="0.7" fill="url(#go)"/>
<rect x="160.65" y="703.9" width="7.3" height="2.5" fill="url(#gc)"/>
<rect x="160.65" y="706.4" width="7.3" height="2.8" fill="url(#gp)"/>
<rect x="160.65" y="709.2" width="7.3" height="0.7" fill="url(#gg)"/>
<rect x="160.65" y="709.9" width="7.3" height="2.8" fill="url(#gr)"/>
<rect x="160.65" y="712.7" width="7.3" height="3.2" fill="url(#gb)"/>
<rect x="160.65" y="715.9" width="7.3" height="2.1" fill="url(#go)"/>
<rect x="160.65" y="718" width="7.3" height="2.8" fill="url(#gc)"/>
<rect x="160.65" y="720.8" width="7.3" height="3.2" fill="url(#gp)"/>
<rect x="160.65" y="724" width="7.3" height="3.9" fill="url(#gg)"/>
<rect x="160.65" y="727.9" width="7.3" height="9.9" fill="url(#gr)"/>
<rect x="160.65" y="737.8" width="7.3" height="11.3" fill="url(#gb)"/>
<rect x="160.65" y="749.1" width="7.3" height="17.8" fill="url(#go)"/>
<rect x="160.65" y="766.9" width="7.3" height="14" fill="url(#gc)"/>
<rect x="160.65" y="780.9" width="7.3" height="19.4" fill="url(#gp)"/>
<rect x="160.65" y="800.3" width="7.3" height="26.8" fill="url(#gg)"/>
<rect x="160.65" y="827.1" width="7.3" height="56.5" fill="url(#gr)"/>
<rect x="160.65" y="883.6" width="7.3" height="70.9" fill="url(#gb)"/>
<rect x="178.65" y="703.2" width="7.3" height="2.1" fill="url(#go)"/>
<rect x="178.65" y="705.3" width="7.3" height="1.8" fill="url(#gc)"/>
<rect x="178.65" y="707.1" width="7.3" height="1.7" fill="url(#gp)"/>
<rect x="178.65" y="708.8" width="7.3" height="2.5" fill="url(#gg)"/>
<rect x="178.65" y="711.3" width="7.3" height="1.4" fill="url(#gr)"/>
<rect x="178.65" y="712.7" width="7.3" height="1.1" fill="url(#gb)"/>
<rect x="178.65" y="713.8" width="7.3" height="4.9" fill="url(#go)"/>
<rect x="178.65" y="718.7" width="7.3" height="2.8" fill="url(#gc)"/>
<rect x="178.65" y="721.5" width="7.3" height="5.3" fill="url(#gp)"/>
<rect x="178.65" y="726.8" width="7.3" height="4.1" fill="url(#gg)"/>
<rect x="178.65" y="730.9" width="7.3" height="14.5" fill="url(#gr)"/>
<rect x="178.65" y="745.4" width="7.3" height="10.9" fill="url(#gb)"/>
<rect x="178.65" y="756.3" width="7.3" height="22.9" fill="url(#go)"/>
<rect x="178.65" y="779.2" width="7.3" height="22.8" fill="url(#gc)"/>
<rect x="178.65" y="802" width="7.3" height="23" fill="url(#gp)"/>
<rect x="178.65" y="825" width="7.3" height="37.9" fill="url(#gg)"/>
<rect x="178.65" y="862.9" width="7.3" height="45" fill="url(#gr)"/>
<rect x="178.65" y="907.9" width="7.3" height="46.6" fill="url(#gb)"/>
<rect x="196.65" y="703.2" width="7.3" height="0.7" fill="url(#go)"/>
<rect x="196.65" y="703.9" width="7.3" height="2.8" fill="url(#gc)"/>
<rect x="196.65" y="706.7" width="7.3" height="1.4" fill="url(#gp)"/>
<rect x="196.65" y="708.1" width="7.3" height="1.8" fill="url(#gg)"/>
<rect x="196.65" y="709.9" width="7.3" height="1.7" fill="url(#gr)"/>
<rect x="196.65" y="711.6" width="7.3" height="2.2" fill="url(#gb)"/>
<rect x="196.65" y="713.8" width="7.3" height="3.1" fill="url(#go)"/>
<rect x="196.65" y="716.9" width="7.3" height="1.8" fill="url(#gc)"/>
<rect x="196.65" y="718.7" width="7.3" height="3.2" fill="url(#gp)"/>
<rect x="196.65" y="721.9" width="7.3" height="2.8" fill="url(#gg)"/>
<rect x="196.65" y="724.7" width="7.3" height="11.5" fill="url(#gr)"/>
<rect x="196.65" y="736.2" width="7.3" height="11.9" fill="url(#gb)"/>
<rect x="196.65" y="748.1" width="7.3" height="22" fill="url(#go)"/>
<rect x="196.65" y="770.1" width="7.3" height="5.6" fill="url(#gc)"/>
<rect x="196.65" y="775.7" width="7.3" height="25.5" fill="url(#gp)"/>
<rect x="196.65" y="801.2" width="7.3" height="27.2" fill="url(#gg)"/>
<rect x="196.65" y="828.4" width="7.3" height="57.5" fill="url(#gr)"/>
<rect x="196.65" y="885.9" width="7.3" height="68.6" fill="url(#gb)"/>
<rect x="214.65" y="703.2" width="7.3" height="0.7" fill="url(#go)"/>
<rect x="214.65" y="703.9" width="7.3" height="2.1" fill="url(#gc)"/>
<rect x="214.65" y="706" width="7.3" height="2.5" fill="url(#gp)"/>
<rect x="214.65" y="708.5" width="7.3" height="1.7" fill="url(#gg)"/>
<rect x="214.65" y="710.2" width="7.3" height="3.6" fill="url(#gr)"/>
<rect x="214.65" y="713.8" width="7.3" height="4.2" fill="url(#gb)"/>
<rect x="214.65" y="718" width="7.3" height="2.1" fill="url(#go)"/>
<rect x="214.65" y="720.1" width="7.3" height="4.2" fill="url(#gc)"/>
<rect x="214.65" y="724.3" width="7.3" height="4.3" fill="url(#gp)"/>
<rect x="214.65" y="728.6" width="7.3" height="3.2" fill="url(#gg)"/>
<rect x="214.65" y="731.8" width="7.3" height="10.1" fill="url(#gr)"/>
<rect x="214.65" y="741.9" width="7.3" height="27.5" fill="url(#gb)"/>
<rect x="214.65" y="769.4" width="7.3" height="19.4" fill="url(#go)"/>
<rect x="214.65" y="788.8" width="7.3" height="23.3" fill="url(#gc)"/>
<rect x="214.65" y="812.1" width="7.3" height="19.2" fill="url(#gp)"/>
<rect x="214.65" y="831.3" width="7.3" height="28.3" fill="url(#gg)"/>
<rect x="214.65" y="859.6" width="7.3" height="47.3" fill="url(#gr)"/>
<rect x="214.65" y="906.9" width="7.3" height="47.6" fill="url(#gb)"/>
<rect x="250.65" y="703.2" width="7.3" height="0.7" fill="url(#go)"/>
<rect x="250.65" y="703.9" width="7.3" height="2.5" fill="url(#gc)"/>
<rect x="250.65" y="706.4" width="7.3" height="3.8" fill="url(#gp)"/>
<rect x="250.65" y="710.2" width="7.3" height="0.7" fill="url(#gg)"/>
<rect x="250.65" y="710.9" width="7.3" height="2.9" fill="url(#gr)"/>
<rect x="250.65" y="713.8" width="7.3" height="3.8" fill="url(#gb)"/>
<rect x="250.65" y="717.6" width="7.3" height="2.5" fill="url(#go)"/>
<rect x="250.65" y="720.1" width="7.3" height="6.4" fill="url(#gc)"/>
<rect x="250.65" y="726.5" width="7.3" height="3.3" fill="url(#gp)"/>
<rect x="250.65" y="729.8" width="7.3" height="3.6" fill="url(#gg)"/>
<rect x="250.65" y="733.4" width="7.3" height="10.6" fill="url(#gr)"/>
<rect x="250.65" y="744" width="7.3" height="15.8" fill="url(#gb)"/>
<rect x="250.65" y="759.8" width="7.3" height="17.1" fill="url(#go)"/>
<rect x="250.65" y="776.9" width="7.3" height="21.3" fill="url(#gc)"/>
<rect x="250.65" y="798.2" width="7.3" height="17.8" fill="url(#gp)"/>
<rect x="250.65" y="816" width="7.3" height="28.1" fill="url(#gg)"/>
<rect x="250.65" y="844.1" width="7.3" height="51.7" fill="url(#gr)"/>
<rect x="250.65" y="895.8" width="7.3" height="58.7" fill="url(#gb)"/>
<rect x="268.65" y="703.2" width="7.3" height="3.2" fill="url(#go)"/>
<rect x="268.65" y="706.4" width="7.3" height="4.2" fill="url(#gc)"/>
<rect x="268.65" y="710.6" width="7.3" height="17.6" fill="url(#gg)"/>
<rect x="268.65" y="728.2" width="7.3" height="1.1" fill="url(#gr)"/>
<rect x="268.65" y="729.3" width="7.3" height="9.2" fill="url(#go)"/>
<rect x="268.65" y="738.5" width="7.3" height="7.5" fill="url(#gp)"/>
<rect x="268.65" y="746" width="7.3" height="9.9" fill="url(#gg)"/>
<rect x="268.65" y="755.9" width="7.3" height="19.3" fill="url(#gr)"/>
<rect x="268.65" y="775.2" width="7.3" height="24.9" fill="url(#gb)"/>
<rect x="268.65" y="800.1" width="7.3" height="35" fill="url(#go)"/>
<rect x="268.65" y="835.1" width="7.3" height="17.6" fill="url(#gc)"/>
<rect x="268.65" y="852.7" width="7.3" height="31.3" fill="url(#gp)"/>
<rect x="268.65" y="884" width="7.3" height="45" fill="url(#gg)"/>
<rect x="268.65" y="929" width="7.3" height="23" fill="url(#gr)"/>
<rect x="268.65" y="952" width="7.3" height="2.5" fill="url(#gb)"/>
<rect x="286.65" y="703.2" width="7.3" height="0.7" fill="url(#go)"/>
<rect x="286.65" y="703.9" width="7.3" height="2.1" fill="url(#gc)"/>
<rect x="286.65" y="706" width="7.3" height="1.8" fill="url(#gp)"/>
<rect x="286.65" y="707.8" width="7.3" height="1.7" fill="url(#gg)"/>
<rect x="286.65" y="709.5" width="7.3" height="1.1" fill="url(#gr)"/>
<rect x="286.65" y="710.6" width="7.3" height="1" fill="url(#gb)"/>
<rect x="286.65" y="711.6" width="7.3" height="2.2" fill="url(#go)"/>
<rect x="286.65" y="713.8" width="7.3" height="1" fill="url(#gc)"/>
<rect x="286.65" y="714.8" width="7.3" height="3.5" fill="url(#gp)"/>
<rect x="286.65" y="718.3" width="7.3" height="2.5" fill="url(#gg)"/>
<rect x="286.65" y="720.8" width="7.3" height="9" fill="url(#gr)"/>
<rect x="286.65" y="729.8" width="7.3" height="13.2" fill="url(#gb)"/>
<rect x="286.65" y="743" width="7.3" height="19.8" fill="url(#go)"/>
<rect x="286.65" y="762.8" width="7.3" height="13.3" fill="url(#gc)"/>
<rect x="286.65" y="776.1" width="7.3" height="20.7" fill="url(#gp)"/>
<rect x="286.65" y="796.8" width="7.3" height="24" fill="url(#gg)"/>
<rect x="286.65" y="820.8" width="7.3" height="53.6" fill="url(#gr)"/>
<rect x="286.65" y="874.4" width="7.3" height="80.1" fill="url(#gb)"/>
<rect x="304.65" y="703.2" width="7.3" height="0.7" fill="url(#go)"/>
<rect x="304.65" y="703.9" width="7.3" height="2.5" fill="url(#gc)"/>
<rect x="304.65" y="706.4" width="7.3" height="1.4" fill="url(#gp)"/>
<rect x="304.65" y="707.8" width="7.3" height="1" fill="url(#gg)"/>
<rect x="304.65" y="708.8" width="7.3" height="1.8" fill="url(#gr)"/>
<rect x="304.65" y="710.6" width="7.3" height="2.1" fill="url(#gb)"/>
<rect x="304.65" y="712.7" width="7.3" height="1.8" fill="url(#go)"/>
<rect x="304.65" y="714.5" width="7.3" height="2.1" fill="url(#gc)"/>
<rect x="304.65" y="716.6" width="7.3" height="3.2" fill="url(#gp)"/>
<rect x="304.65" y="719.8" width="7.3" height="1.7" fill="url(#gg)"/>
<rect x="304.65" y="721.5" width="7.3" height="10.5" fill="url(#gr)"/>
<rect x="304.65" y="732" width="7.3" height="24.3" fill="url(#gb)"/>
<rect x="304.65" y="756.3" width="7.3" height="21.9" fill="url(#go)"/>
<rect x="304.65" y="778.2" width="7.3" height="22.1" fill="url(#gc)"/>
<rect x="304.65" y="800.3" width="7.3" height="20.5" fill="url(#gp)"/>
<rect x="304.65" y="820.8" width="7.3" height="27.7" fill="url(#gg)"/>
<rect x="304.65" y="848.5" width="7.3" height="54" fill="url(#gr)"/>
<rect x="304.65" y="902.5" width="7.3" height="52" fill="url(#gb)"/>
<rect x="340.65" y="703.2" width="7.3" height="0.7" fill="url(#go)"/>
<rect x="340.65" y="703.9" width="7.3" height="2.5" fill="url(#gc)"/>
<rect x="340.65" y="706.4" width="7.3" height="4.9" fill="url(#gp)"/>
<rect x="340.65" y="711.3" width="7.3" height="1.4" fill="url(#gg)"/>
<rect x="340.65" y="712.7" width="7.3" height="2.5" fill="url(#gr)"/>
<rect x="340.65" y="715.2" width="7.3" height="2.4" fill="url(#gb)"/>
<rect x="340.65" y="717.6" width="7.3" height="3.2" fill="url(#go)"/>
<rect x="340.65" y="720.8" width="7.3" height="5.3" fill="url(#gc)"/>
<rect x="340.65" y="726.1" width="7.3" height="4.6" fill="url(#gp)"/>
<rect x="340.65" y="730.7" width="7.3" height="5" fill="url(#gg)"/>
<rect x="340.65" y="735.7" width="7.3" height="8.3" fill="url(#gr)"/>
<rect x="340.65" y="744" width="7.3" height="14" fill="url(#gb)"/>
<rect x="340.65" y="758" width="7.3" height="21.2" fill="url(#go)"/>
<rect x="340.65" y="779.2" width="7.3" height="24.7" fill="url(#gc)"/>
<rect x="340.65" y="803.9" width="7.3" height="19.2" fill="url(#gp)"/>
<rect x="340.65" y="823.1" width="7.3" height="28.7" fill="url(#gg)"/>
<rect x="340.65" y="851.8" width="7.3" height="44.6" fill="url(#gr)"/>
<rect x="340.65" y="896.4" width="7.3" height="58.1" fill="url(#gb)"/>
<rect x="358.65" y="703.2" width="7.3" height="1" fill="url(#go)"/>
<rect x="358.65" y="704.2" width="7.3" height="2.9" fill="url(#gc)"/>
<rect x="358.65" y="707.1" width="7.3" height="0.7" fill="url(#gp)"/>
<rect x="358.65" y="707.8" width="7.3" height="3.1" fill="url(#gg)"/>
<rect x="358.65" y="710.9" width="7.3" height="5.7" fill="url(#gr)"/>
<rect x="358.65" y="716.6" width="7.3" height="1.4" fill="url(#gb)"/>
<rect x="358.65" y="718" width="7.3" height="3.5" fill="url(#go)"/>
<rect x="358.65" y="721.5" width="7.3" height="2.1" fill="url(#gc)"/>
<rect x="358.65" y="723.6" width="7.3" height="4.6" fill="url(#gp)"/>
<rect x="358.65" y="728.2" width="7.3" height="8" fill="url(#gg)"/>
<rect x="358.65" y="736.2" width="7.3" height="12.6" fill="url(#gr)"/>
<rect x="358.65" y="748.8" width="7.3" height="18.5" fill="url(#gb)"/>
<rect x="358.65" y="767.3" width="7.3" height="31.8" fill="url(#go)"/>
<rect x="358.65" y="799.1" width="7.3" height="14" fill="url(#gc)"/>
<rect x="358.65" y="813.1" width="7.3" height="22" fill="url(#gp)"/>
<rect x="358.65" y="835.1" width="7.3" height="27.2" fill="url(#gg)"/>
<rect x="358.65" y="862.3" width="7.3" height="47.9" fill="url(#gr)"/>
<rect x="358.65" y="910.2" width="7.3" height="44.3" fill="url(#gb)"/>
<rect x="376.65" y="703.2" width="7.3" height="0.7" fill="url(#go)"/>
<rect x="376.65" y="703.9" width="7.3" height="3.2" fill="url(#gc)"/>
<rect x="376.65" y="707.1" width="7.3" height="6" fill="url(#gp)"/>
<rect x="376.65" y="713.1" width="7.3" height="1.4" fill="url(#gg)"/>
<rect x="376.65" y="714.5" width="7.3" height="1.7" fill="url(#gr)"/>
<rect x="376.65" y="716.2" width="7.3" height="1.8" fill="url(#gb)"/>
<rect x="376.65" y="718" width="7.3" height="3.9" fill="url(#go)"/>
<rect x="376.65" y="721.9" width="7.3" height="1.7" fill="url(#gc)"/>
<rect x="376.65" y="723.6" width="7.3" height="4.3" fill="url(#gp)"/>
<rect x="376.65" y="727.9" width="7.3" height="6.1" fill="url(#gg)"/>
<rect x="376.65" y="734" width="7.3" height="9" fill="url(#gr)"/>
<rect x="376.65" y="743" width="7.3" height="14.3" fill="url(#gb)"/>
<rect x="376.65" y="757.3" width="7.3" height="30.9" fill="url(#go)"/>
<rect x="376.65" y="788.2" width="7.3" height="8" fill="url(#gc)"/>
<rect x="376.65" y="796.2" width="7.3" height="23" fill="url(#gp)"/>
<rect x="376.65" y="819.2" width="7.3" height="26.5" fill="url(#gg)"/>
<rect x="376.65" y="845.7" width="7.3" height="51.1" fill="url(#gr)"/>
<rect x="376.65" y="896.8" width="7.3" height="57.7" fill="url(#gb)"/>
<rect x="394.65" y="703.2" width="7.3" height="1" fill="url(#go)"/>
<rect x="394.65" y="704.2" width="7.3" height="2.9" fill="url(#gc)"/>
<rect x="394.65" y="707.1" width="7.3" height="5.3" fill="url(#gp)"/>
<rect x="394.65" y="712.4" width="7.3" height="1.4" fill="url(#gg)"/>
<rect x="394.65" y="713.8" width="7.3" height="2.4" fill="url(#gr)"/>
<rect x="394.65" y="716.2" width="7.3" height="1.8" fill="url(#gb)"/>
<rect x="394.65" y="718" width="7.3" height="3.9" fill="url(#go)"/>
<rect x="394.65" y="721.9" width="7.3" height="1.4" fill="url(#gc)"/>
<rect x="394.65" y="723.3" width="7.3" height="4.6" fill="url(#gp)"/>
<rect x="394.65" y="727.9" width="7.3" height="4.1" fill="url(#gg)"/>
<rect x="394.65" y="732" width="7.3" height="9.9" fill="url(#gr)"/>
<rect x="394.65" y="741.9" width="7.3" height="27.2" fill="url(#gb)"/>
<rect x="394.65" y="769.1" width="7.3" height="30" fill="url(#go)"/>
<rect x="394.65" y="799.1" width="7.3" height="14.6" fill="url(#gc)"/>
<rect x="394.65" y="813.7" width="7.3" height="20.1" fill="url(#gp)"/>
<rect x="394.65" y="833.8" width="7.3" height="26.6" fill="url(#gg)"/>
<rect x="394.65" y="860.4" width="7.3" height="44.2" fill="url(#gr)"/>
<rect x="394.65" y="904.6" width="7.3" height="49.9" fill="url(#gb)"/>
<text x="74.3" y="965.9" class="xl" style="font-size:5.1px">Day 1</text>
<text x="74.3" y="982" class="xl" style="font-size:4.95px">PEN</text>
<text x="92.3" y="965.9" class="xl" style="font-size:5.1px">Day 5</text>
<text x="92.3" y="982" class="xl" style="font-size:4.95px">PEN</text>
<text x="110.3" y="965.9" class="xl" style="font-size:5.1px">Day 14</text>
<text x="110.3" y="982" class="xl" style="font-size:4.95px">PEN</text>
<text x="128.3" y="965.9" class="xl" style="font-size:5.1px">Day 30</text>
<text x="128.3" y="982" class="xl" style="font-size:4.95px">PEN</text>
<text x="164.3" y="965.9" class="xl" style="font-size:5.1px">Day 1</text>
<text x="164.3" y="982" class="xl" style="font-size:4.95px">CEF</text>
<text x="182.3" y="965.9" class="xl" style="font-size:5.1px">Day 5</text>
<text x="182.3" y="982" class="xl" style="font-size:4.95px">CEF</text>
<text x="200.3" y="965.9" class="xl" style="font-size:5.1px">Day 14</text>
<text x="200.3" y="982" class="xl" style="font-size:4.95px">CEF</text>
<text x="218.3" y="965.9" class="xl" style="font-size:5.1px">Day 30</text>
<text x="218.3" y="982" class="xl" style="font-size:4.95px">CEF</text>
<text x="254.3" y="965.9" class="xl" style="font-size:5.1px">Day 1</text>
<text x="254.3" y="982" class="xl" style="font-size:4.95px">TMS</text>
<text x="272.3" y="965.9" class="xl" style="font-size:5.1px">Day 5</text>
<text x="272.3" y="982" class="xl" style="font-size:4.95px">TMS</text>
<text x="290.3" y="965.9" class="xl" style="font-size:5.1px">Day 14</text>
<text x="290.3" y="982" class="xl" style="font-size:4.95px">TMS</text>
<text x="308.3" y="965.9" class="xl" style="font-size:5.1px">Day 30</text>
<text x="308.3" y="982" class="xl" style="font-size:4.95px">TMS</text>
<text x="344.3" y="965.9" class="xl" style="font-size:5.1px">Day 1</text>
<text x="344.3" y="982" class="xl" style="font-size:4.95px">CON</text>
<text x="362.3" y="965.9" class="xl" style="font-size:5.1px">Day 5</text>
<text x="362.3" y="982" class="xl" style="font-size:4.95px">CON</text>
<text x="380.3" y="965.9" class="xl" style="font-size:5.1px">Day 14</text>
<text x="380.3" y="982" class="xl" style="font-size:4.95px">CON</text>
<text x="398.3" y="965.9" class="xl" style="font-size:5.1px">Day 30</text>
<text x="398.3" y="982" class="xl" style="font-size:4.95px">CON</text>
<rect x="416.8" y="751.25" width="2.9" height="2.9" fill="#f4a056"/>
<text transform="translate(421.2 755) scale(0.86 1)" class="lg" style="font-size:6.28px">Lachnospiracea_incertae_sedis</text>
<rect x="416.8" y="761.96" width="2.9" height="2.9" fill="#5ec0de"/>
<text transform="translate(421.2 765.71) scale(0.86 1)" class="lg" style="font-size:6.28px">Sporobacter</text>
<rect x="416.8" y="772.67" width="2.9" height="2.9" fill="#9f86c8"/>
<text transform="translate(421.2 776.42) scale(0.86 1)" class="lg" style="font-size:6.28px">unclassified Verrucomicrobiaceae</text>
<rect x="416.8" y="783.38" width="2.9" height="2.9" fill="#add573"/>
<text transform="translate(421.2 787.13) scale(0.86 1)" class="lg" style="font-size:6.28px">Anaeroplasma</text>
<rect x="416.8" y="794.09" width="2.9" height="2.9" fill="#e77d75"/>
<text transform="translate(421.2 797.84) scale(0.86 1)" class="lg" style="font-size:6.28px">unclassified Proteobacteria</text>
<rect x="416.8" y="804.8" width="2.9" height="2.9" fill="#6c9bd9"/>
<text transform="translate(421.2 808.55) scale(0.86 1)" class="lg" style="font-size:6.28px">Saccharofermentans</text>
<rect x="416.8" y="815.51" width="2.9" height="2.9" fill="#f4a056"/>
<text transform="translate(421.2 819.26) scale(0.86 1)" class="lg" style="font-size:6.28px">Clostridium_XIVa</text>
<rect x="416.8" y="826.22" width="2.9" height="2.9" fill="#5ec0de"/>
<text transform="translate(421.2 829.97) scale(0.86 1)" class="lg" style="font-size:6.28px">Akkermansia</text>
<rect x="416.8" y="836.93" width="2.9" height="2.9" fill="#9f86c8"/>
<text transform="translate(421.2 840.68) scale(0.86 1)" class="lg" style="font-size:6.28px">unclassified Clostridia</text>
<rect x="416.8" y="847.64" width="2.9" height="2.9" fill="#add573"/>
<text transform="translate(421.2 851.39) scale(0.86 1)" class="lg" style="font-size:6.28px">Ruminococcus</text>
<rect x="416.8" y="858.35" width="2.9" height="2.9" fill="#e77d75"/>
<text transform="translate(421.2 862.1) scale(0.86 1)" class="lg" style="font-size:6.28px">unclassified Firmicutes</text>
<rect x="416.8" y="869.06" width="2.9" height="2.9" fill="#6c9bd9"/>
<text transform="translate(421.2 872.81) scale(0.86 1)" class="lg" style="font-size:6.28px">Treponema</text>
<rect x="416.8" y="879.77" width="2.9" height="2.9" fill="#f4a056"/>
<text transform="translate(421.2 883.52) scale(0.86 1)" class="lg" style="font-size:6.28px">unclassified Lachnospiraceae</text>
<rect x="416.8" y="890.48" width="2.9" height="2.9" fill="#5ec0de"/>
<text transform="translate(421.2 894.23) scale(0.86 1)" class="lg" style="font-size:6.28px">Fibrobacter</text>
<rect x="416.8" y="901.19" width="2.9" height="2.9" fill="#9f86c8"/>
<text transform="translate(421.2 904.94) scale(0.86 1)" class="lg" style="font-size:6.28px">unclassified Ruminococcaceae</text>
<rect x="416.8" y="911.9" width="2.9" height="2.9" fill="#add573"/>
<text transform="translate(421.2 915.65) scale(0.86 1)" class="lg" style="font-size:6.28px">unclassified Clostridiales</text>
<rect x="416.8" y="922.61" width="2.9" height="2.9" fill="#e77d75"/>
<text transform="translate(421.2 926.36) scale(0.86 1)" class="lg" style="font-size:6.28px">unclassified Bacteria</text>
<rect x="416.8" y="933.32" width="2.9" height="2.9" fill="#6c9bd9"/>
<text transform="translate(421.2 937.07) scale(0.86 1)" class="lg" style="font-size:6.28px">5_genus_incertae_sedis</text>
<text x="3.4" y="15.9" class="pl pls" style="font-size:18.6px;stroke-width:1.1px">A</text>
<text x="2.7" y="15.2" class="pl" style="font-size:18.6px;stroke-width:1.1px">A</text>
<text x="3.5" y="367.6" class="pl pls" style="font-size:19px;stroke-width:0.5px">B</text>
<text x="2.8" y="366.9" class="pl" style="font-size:19px;stroke-width:0.5px">B</text>
<text x="4" y="687.2" class="pl pls" style="font-size:20px;stroke-width:0.3px">C</text>
<text x="3.3" y="686.5" class="pl" style="font-size:20px;stroke-width:0.3px">C</text>
</svg>
</body></html>
